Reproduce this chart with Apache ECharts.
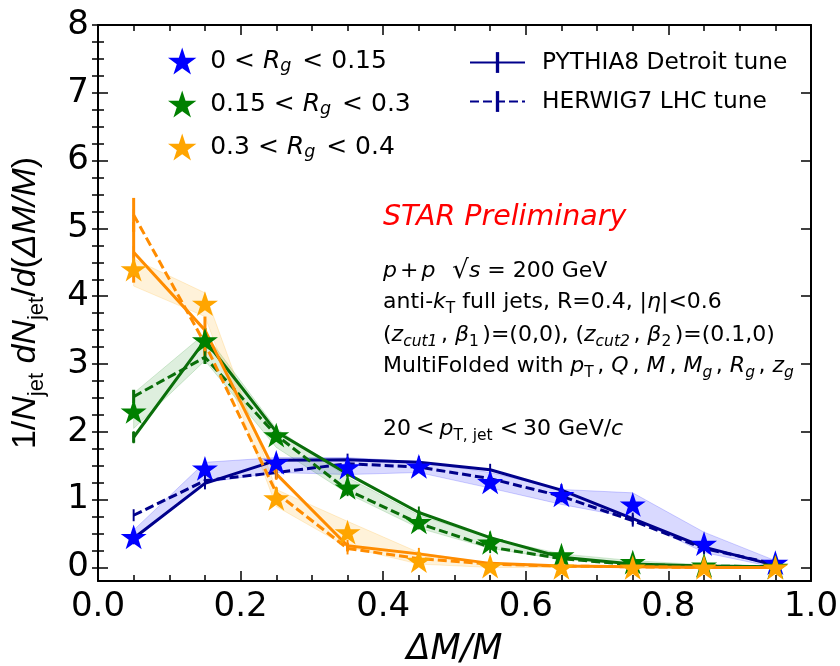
<!DOCTYPE html>
<html><head><meta charset="utf-8">
<script src="https://cdn.jsdelivr.net/npm/echarts@6/dist/echarts.min.js"></script>
<style>html,body{margin:0;padding:0;background:#fff}#c{width:840px;height:666px}</style>
</head><body><div id="c"></div>
<script>
// ---- data ----
const xCenters = [0.05,0.15,0.25,0.35,0.45,0.55,0.65,0.75,0.85,0.95];
// STAR data (stars)
const dataRg1 = [0.45,1.46,1.55,1.48,1.49,1.26,1.07,0.93,0.35,0.07];
const dataRg2 = [2.30,3.35,1.95,1.18,0.67,0.37,0.18,0.08,0.03,0.01];
const dataRg3 = [4.40,3.89,1.02,0.52,0.10,0.02,0.00,0.00,0.00,0.00];
// systematic bands (upper / lower)
const bandRg1Up = [0.55,1.55,1.62,1.62,1.56,1.40,1.15,1.10,0.52,0.10];
const bandRg1Dn = [0.40,1.25,1.40,1.37,1.40,1.17,0.93,0.73,0.22,0.00];
const bandRg2Up = [2.57,3.45,2.05,1.33,0.77,0.43,0.20,0.10,0.04,0.02];
const bandRg2Dn = [2.05,3.05,1.77,1.09,0.58,0.28,0.12,0.05,0.01,0.00];
const bandRg3Up = [4.55,4.05,1.15,0.68,0.22,0.06,0.02,0.02,0.01,0.01];
const bandRg3Dn = [4.15,3.70,0.90,0.30,0.05,0.00,0.00,0.00,0.00,0.00];
// PYTHIA8 (solid) and HERWIG7 (dashed)
const pythiaRg1 = [0.43,1.24,1.58,1.59,1.55,1.44,1.14,0.72,0.30,0.03];
const herwigRg1 = [0.77,1.28,1.40,1.53,1.48,1.31,1.05,0.69,0.28,0.05];
const pythiaRg2 = [1.92,3.35,2.00,1.38,0.81,0.44,0.15,0.05,0.02,0.01];
const herwigRg2 = [2.52,3.10,1.95,1.14,0.65,0.30,0.13,0.04,0.02,0.01];
const pythiaRg3 = [4.65,3.50,1.38,0.32,0.20,0.06,0.02,0.01,0.00,0.00];
const herwigRg3 = [5.20,3.30,1.10,0.28,0.13,0.05,0.02,0.01,0.00,0.00];
// model statistical errors
const pythiaRg2Err = [0.08,0.18,0.05,0.04,0.03,0.02,0.02,0.01,0.01,0.01];
const herwigRg2Err = [0.10,0.10,0.05,0.04,0.03,0.02,0.02,0.01,0.01,0.01];
const pythiaRg3Err = [0.45,0.20,0.08,0.04,0.03,0.02,0.01,0.01,0.01,0.01];
const herwigRg3Err = [0.25,0.18,0.08,0.04,0.03,0.02,0.01,0.01,0.01,0.01];
// ticks
const yMajor = [0,1,2,3,4,5,6,7,8];
const yMinor = [];
for (let v = 0; v <= 8.0001; v += 0.25) yMinor.push(+v.toFixed(2));
const legendData = ['0 < Rg < 0.15','0.15 < Rg < 0.3','0.3 < Rg < 0.4'];
const legendRich = {
  '0 < Rg < 0.15':'0 < {i|R}{s|g} < 0.15',
  '0.15 < Rg < 0.3':'0.15 < {i|R}{s|g} < 0.3',
  '0.3 < Rg < 0.4':'0.3 < {i|R}{s|g} < 0.4'
};

// ---- styles ----
const FONT = 'DejaVu Sans';
const cBlue='#0000ff', cNavy='#00008b', cGreen='#008000', cDGreen='#0a6e0a', cOrange='#ffa500', cDOrange='#ff8c00';
const STAR = 'path://M0,-100 L22.45,-30.9 L95.1,-30.9 L36.3,11.8 L58.8,80.9 L0,38.2 L-58.8,80.9 L-36.3,11.8 L-95.1,-30.9 L-22.45,-30.9 Z';
const VBAR = 'path://M-10,-10 M10,10 M-1.6,-10 L1.6,-10 L1.6,10 L-1.6,10 Z';

function pairs(ys){ return xCenters.map((x,i)=>[x, ys[i]]); }
function band(up, dn, fill, stroke){
  return {type:'custom', silent:true, z:1, clip:true,
    data: xCenters.map((x,i)=>[x, up[i], dn[i]]),
    encode:{x:0, y:[1,2]},
    renderItem:(params, api)=>{
      if (params.dataIndex !== 0) return null;
      const pts=[];
      for (let i=0;i<xCenters.length;i++) pts.push(api.coord([xCenters[i], up[i]]));
      for (let i=xCenters.length-1;i>=0;i--) pts.push(api.coord([xCenters[i], dn[i]]));
      return {type:'polygon', shape:{points:pts}, style:{fill:fill, stroke:stroke, lineWidth:1}};
    }};
}
function model(name, ys, color, dashed){
  return {type:'line', name:name, data:pairs(ys), z:3,
    symbol:VBAR, symbolSize:12, showSymbol:true,
    itemStyle:{color:color},
    lineStyle:{color:color, width:3, type: dashed ? [9,4] : 'solid'},
    emphasis:{disabled:true}, animation:false};
}
function errbars(ys, errs, color){
  return {type:'custom', silent:true, z:3,
    data: xCenters.map((x,i)=>[x, ys[i], errs[i]]),
    encode:{x:0, y:1},
    renderItem:(params, api)=>{
      const x=api.value(0), y=api.value(1), e=api.value(2);
      const p1=api.coord([x,y-e]), p2=api.coord([x,y+e]);
      return {type:'line', shape:{x1:p1[0],y1:p1[1],x2:p2[0],y2:p2[1]}, style:{stroke:color, lineWidth:3}};
    }};
}
function stars(name, ys, color){
  return {type:'scatter', name:name, data:pairs(ys), symbol:STAR, symbolSize:26, symbolKeepAspect:true,
    itemStyle:{color:color, opacity:1}, z:5, emphasis:{disabled:true}};
}

// rich-text styles for the annotation block (mathtext look-alike)
const mathRich = {
  i:{fontSize:22, fontFamily:FONT, fontStyle:'italic', lineHeight:30},
  ip:{fontSize:22, fontFamily:FONT, fontStyle:'italic', lineHeight:30, padding:[0,4,0,0]},
  s:{fontSize:15.5, fontFamily:FONT, lineHeight:20, verticalAlign:'bottom', padding:[0,3.5,0,0]},
  s0:{fontSize:15.5, fontFamily:FONT, lineHeight:20, verticalAlign:'bottom'},
  si:{fontSize:15.5, fontFamily:FONT, fontStyle:'italic', lineHeight:20, verticalAlign:'bottom', padding:[0,3.5,0,0]},
  sj:{fontSize:15.5, fontFamily:FONT, lineHeight:20, verticalAlign:'bottom', padding:[0,2,0,0]},
  r:{fontSize:26, fontFamily:FONT, lineHeight:30, padding:[0,0,0,3]},
  sp:{fontSize:22, fontFamily:FONT, lineHeight:30, padding:[0,3,0,3]},
  rel:{fontSize:22, fontFamily:FONT, lineHeight:30, padding:[0,5,0,5]}
};
const chart = echarts.init(document.getElementById('c'), null, {renderer:'canvas'});
const axisCommon = {min:0, max:1, interval:0.2, type:'value', splitLine:{show:false}};
const tickStyle = {color:'#000', width:1.5};
const txt = (y, text, extra) => ({type:'text', x:383, y:y, style:Object.assign({text:text, fill:'#000', fontSize:22, fontFamily:FONT, verticalAlign:'middle', lineHeight:30, rich:mathRich}, extra||{})});

chart.setOption({
  animation:false,
  backgroundColor:'#fff',
  grid:{left:98, right:29, top:25, bottom:85, containLabel:false, outerBoundsMode:'none'},
  xAxis:[
    Object.assign({}, axisCommon, {position:'bottom',
      axisLine:{show:true, onZero:false, lineStyle:{color:'#000', width:2}},
      axisTick:{show:true, inside:true, length:10, lineStyle:tickStyle},
      minorTick:{show:true, splitNumber:4, length:6, lineStyle:tickStyle},
      axisLabel:{fontSize:34, color:'#000', fontFamily:FONT, margin:9, formatter:v=>v.toFixed(1)},
      name:'ΔM/M', nameLocation:'middle', nameGap:51,
      nameTextStyle:{fontSize:35, fontStyle:'italic', color:'#000', fontFamily:FONT}}),
    Object.assign({}, axisCommon, {position:'top',
      axisLine:{show:true, onZero:false, lineStyle:{color:'#000', width:2}},
      axisTick:{show:true, inside:true, length:10, lineStyle:tickStyle},
      minorTick:{show:true, splitNumber:4, length:6, lineStyle:tickStyle},
      axisLabel:{show:false}})
  ],
  yAxis:[
    {type:'value', min:-0.2, max:8, position:'left', splitLine:{show:false},
      axisLine:{show:true, onZero:false, lineStyle:{color:'#000', width:2}},
      axisTick:{show:true, inside:true, length:10, lineStyle:tickStyle, customValues:yMajor},
      axisLabel:{show:true, customValues:yMajor, fontSize:34, color:'#000', fontFamily:FONT, margin:9},
      name:'1/{i|N}{s|jet} {i|dN}{s|jet}/{i|d}({i|ΔM/M})', nameLocation:'middle', nameGap:50, nameRotate:90,
      nameTextStyle:{fontSize:34, color:'#000', fontFamily:'Liberation Sans', lineHeight:44,
        rich:{i:{fontSize:34, fontStyle:'italic', fontFamily:'Liberation Sans', lineHeight:44},
              s:{fontSize:22, fontFamily:'Liberation Sans', lineHeight:28, verticalAlign:'bottom'}}}},
    {type:'value', min:-0.2, max:8, position:'left', splitLine:{show:false},
      axisLine:{show:false}, axisLabel:{show:false},
      axisTick:{show:true, inside:true, length:6, lineStyle:tickStyle, customValues:yMinor}},
    {type:'value', min:-0.2, max:8, position:'right', splitLine:{show:false},
      axisLine:{show:true, onZero:false, lineStyle:{color:'#000', width:2}}, axisLabel:{show:false},
      axisTick:{show:true, inside:true, length:10, lineStyle:tickStyle, customValues:yMajor}},
    {type:'value', min:-0.2, max:8, position:'right', splitLine:{show:false},
      axisLine:{show:false}, axisLabel:{show:false},
      axisTick:{show:true, inside:true, length:6, lineStyle:tickStyle, customValues:yMinor}}
  ],
  legend:[
    {data:legendData, orient:'vertical', left:163, top:42, itemWidth:46, itemHeight:27, itemGap:15,
      selectedMode:false,
      formatter:n=>legendRich[n],
      textStyle:{fontSize:25, color:'#000', fontFamily:FONT, lineHeight:28,
        rich:{i:{fontSize:25, fontFamily:FONT, fontStyle:'italic', lineHeight:28},
              s:{fontSize:17.5, fontFamily:FONT, fontStyle:'italic', lineHeight:18, verticalAlign:'bottom', padding:[0,3,0,0]}}}},
    {data:['PYTHIA8 Detroit tune','HERWIG7 LHC tune'], orient:'vertical', left:464, top:46, itemWidth:55, itemHeight:26, itemGap:16,
      selectedMode:false,
      textStyle:{fontSize:23.3, color:'#000', fontFamily:FONT, padding:[0,0,0,12]}}
  ],
  graphic:[
    {type:'text', x:383, y:218, style:{text:'STAR Preliminary', fill:'#ff0000', fontSize:28.5, fontStyle:'italic', fontFamily:FONT, verticalAlign:'middle'}},
    txt(271, '{i|p}{sp|+}{i|p}  {r|√}{i|s} = 200 GeV'),
    txt(302, 'anti-{i|k}{s0|T} full jets, R=0.4, |{i|η}|<0.6'),
    txt(335, '({i|z}{si|cut1}, {i|β}{s|1})=(0,0), ({i|z}{si|cut2}, {i|β}{s|2})=(0.1,0)'),
    txt(366, 'MultiFolded with {i|p}{s|T}, {ip|Q}, {ip|M}, {i|M}{si|g}, {i|R}{si|g}, {i|z}{si|g}'),
    txt(429, '20{rel|<}{i|p}{sj|T, jet}{rel|<}30 GeV/{i|c}')
  ],
  series:[
    band(bandRg1Up, bandRg1Dn, 'rgba(0,0,255,0.15)', 'rgba(0,0,255,0.18)'),
    band(bandRg2Up, bandRg2Dn, 'rgba(0,128,0,0.13)', 'rgba(0,128,0,0.16)'),
    band(bandRg3Up, bandRg3Dn, 'rgba(255,165,0,0.15)', 'rgba(255,165,0,0.18)'),
    model('PYTHIA8 Detroit tune', pythiaRg1, cNavy, false),
    model('HERWIG7 LHC tune', herwigRg1, cNavy, true),
    model('pythia2', pythiaRg2, cDGreen, false),
    model('herwig2', herwigRg2, cDGreen, true),
    model('pythia3', pythiaRg3, cDOrange, false),
    model('herwig3', herwigRg3, cDOrange, true),
    errbars(pythiaRg2, pythiaRg2Err, cDGreen),
    errbars(herwigRg2, herwigRg2Err, cDGreen),
    errbars(pythiaRg3, pythiaRg3Err, cDOrange),
    errbars(herwigRg3, herwigRg3Err, cDOrange),
    stars(legendData[0], dataRg1, cBlue),
    stars(legendData[1], dataRg2, cGreen),
    stars(legendData[2], dataRg3, cOrange)
  ]
});
</script></body></html>
